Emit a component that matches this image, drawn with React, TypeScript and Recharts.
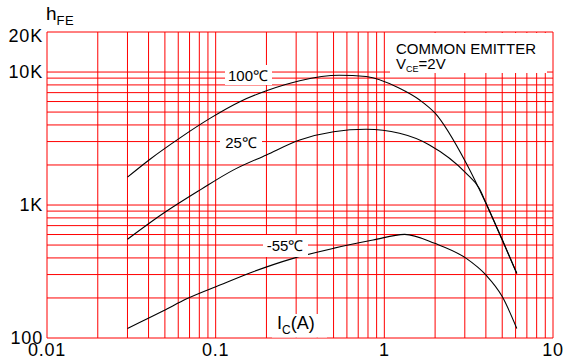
import { CartesianGrid, Line, LineChart, XAxis, YAxis } from "recharts";

// Collector current (A) and DC current gain
const I_100C = [0.03, 0.041, 0.0615, 0.093, 0.139, 0.2, 0.315, 0.54, 0.78, 1.23, 1.62, 2.0, 3.06, 4.0, 5.0, 6.1];
const HFE_100C = [1620, 2220, 3200, 4500, 5980, 7230, 8600, 9450, 9250, 7550, 6160, 4900, 2060, 1030, 545, 306];

const I_25C = [0.03, 0.049, 0.081, 0.127, 0.2, 0.315, 0.5, 0.78, 1.23, 1.85, 3.06, 3.66, 4.0, 5.0, 6.1];
const HFE_25C = [552, 866, 1300, 1830, 2380, 3080, 3560, 3710, 3460, 2830, 1730, 1330, 1040, 550, 306];

const I_M55C = [0.03, 0.049, 0.0673, 0.106, 0.167, 0.288, 0.497, 0.857, 1.32, 1.99, 3.06, 4.0, 5.0, 6.1];
const HFE_M55C = [118, 160, 197, 250, 315, 397, 472, 545, 602, 515, 397, 298, 205, 118];

// Grid positions (1..9 per decade) and the few that carry a label
const X_TICKS = [
  0.01, 0.02, 0.03, 0.04, 0.05, 0.06, 0.07, 0.08, 0.09,
  0.1, 0.2, 0.3, 0.4, 0.5, 0.6, 0.7, 0.8, 0.9,
  1, 2, 3, 4, 5, 6, 7, 8, 9, 10,
];
const X_LABELS: Record<number, string> = { 0.01: "0.01", 0.1: "0.1", 1: "1", 10: "10" };

const Y_TICKS = [
  100, 200, 300, 400, 500, 600, 700, 800, 900,
  1000, 2000, 3000, 4000, 5000, 6000, 7000, 8000, 9000,
  10000, 20000,
];
const Y_LABELS: Record<number, string> = { 100: "100", 1000: "1K", 10000: "10K", 20000: "20K" };

const toRows = (xs: number[], ys: number[]) => xs.map((i, k) => ({ i, h: ys[k] }));

const FONT = "Arial, 'Liberation Sans', sans-serif";
const GRID_RED = "#ff0000";

function YTick(props: any) {
  const { x, y, payload } = props;
  const label = Y_LABELS[payload.value];
  if (!label) return null;
  // the top label sits a little below its line in the original
  const shift = payload.value === 20000 ? 4 : 0;
  return (
    <text
      x={x}
      y={y + shift}
      dy="0.355em"
      textAnchor="end"
      fontSize={18}
      letterSpacing={0.8}
      fontFamily={FONT}
      fill="#000"
    >
      {label}
    </text>
  );
}

function Overlay() {
  const box = { fill: "#fff" };
  return (
    <svg
      width={566}
      height={361}
      style={{ position: "absolute", left: 0, top: 0, pointerEvents: "none" }}
      fontFamily={FONT}
    >
      <text x={46} y={20} fontSize={19} fill="#000">
        h
        <tspan fontSize={13} dy={5} letterSpacing={0.5}>
          FE
        </tspan>
      </text>

      <rect x={390} y={33} width={157} height={40} {...box} />
      <text x={396} y={54} fontSize={15} fill="#000">
        COMMON EMITTER
      </text>
      <text x={396} y={69} fontSize={15} fill="#000">
        V
        <tspan fontSize={9} dy={3}>
          CE
        </tspan>
        <tspan dy={-3}>=2V</tspan>
      </text>

      <rect x={225} y={65} width={47} height={20} {...box} />
      <text x={248} y={81} fontSize={15} textAnchor="middle" fill="#000">
        100℃
      </text>

      <rect x={220} y={136} width={42} height={14} {...box} />
      <text x={241} y={148} fontSize={15} textAnchor="middle" fill="#000">
        25℃
      </text>

      <rect x={263} y={235} width={45} height={22} {...box} />
      <text x={285} y={251} fontSize={15} textAnchor="middle" fill="#000">
        -55℃
      </text>

      <rect x={272} y={314} width={55} height={23.5} {...box} />
      <text x={277} y={329} fontSize={18} fill="#000">
        I
        <tspan fontSize={12} dy={5}>
          C
        </tspan>
        <tspan dy={-5}>(A)</tspan>
      </text>
    </svg>
  );
}

export default function App() {
  return (
    <div style={{ position: "absolute", left: 0, top: 0, width: 566, height: 361, background: "#fff" }}>
      <LineChart width={566} height={361} margin={{ top: 32, right: 13, bottom: 0, left: 0 }}>
        <CartesianGrid stroke={GRID_RED} strokeWidth={1} />
        <XAxis
          dataKey="i"
          type="number"
          scale="log"
          domain={[0.01, 10]}
          allowDataOverflow
          ticks={X_TICKS}
          interval={0}
          tickFormatter={(v: number) => X_LABELS[v] ?? ""}
          axisLine={false}
          tickLine={false}
          tickSize={0}
          tickMargin={5}
          height={23}
          tick={{ fontSize: 18, fill: "#000", fontFamily: FONT, letterSpacing: 0.8 }}
        />
        <YAxis
          dataKey="h"
          type="number"
          scale="log"
          domain={[100, 20000]}
          allowDataOverflow
          ticks={Y_TICKS}
          interval={0}
          axisLine={false}
          tickLine={false}
          tickSize={0}
          tickMargin={4}
          width={47}
          tick={<YTick />}
        />
        <Line
          data={toRows(I_100C, HFE_100C)}
          dataKey="h"
          type="monotone"
          stroke="#000"
          strokeWidth={1.1}
          dot={false}
          isAnimationActive={false}
        />
        <Line
          data={toRows(I_25C, HFE_25C)}
          dataKey="h"
          type="monotone"
          stroke="#000"
          strokeWidth={1.1}
          dot={false}
          isAnimationActive={false}
        />
        <Line
          data={toRows(I_M55C, HFE_M55C)}
          dataKey="h"
          type="monotone"
          stroke="#000"
          strokeWidth={1.1}
          dot={false}
          isAnimationActive={false}
        />
      </LineChart>
      <Overlay />
    </div>
  );
}
